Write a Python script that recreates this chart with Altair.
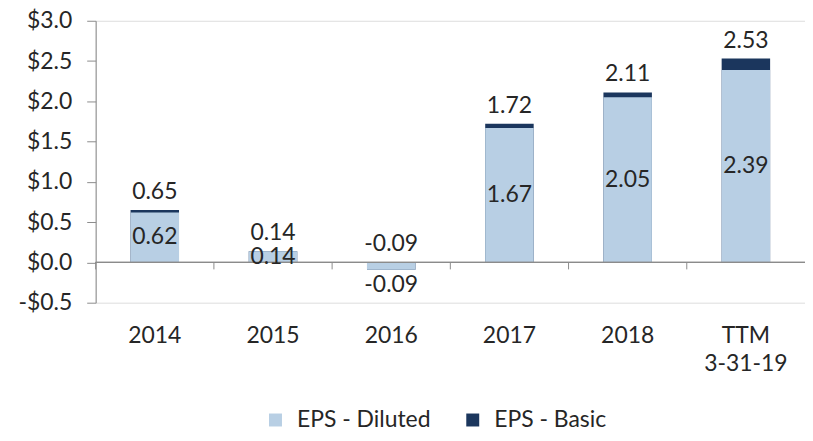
import altair as alt
import pandas as pd

categories = ["2014", "2015", "2016", "2017", "2018", "TTM 3-31-19"]
eps_diluted = [0.62, 0.14, -0.09, 1.67, 2.05, 2.39]
eps_basic = [0.65, 0.14, -0.09, 1.72, 2.11, 2.53]
series_names = ["EPS - Diluted", "EPS - Basic"]
series_colors = ["#b8cfe4", "#1b365d"]
y_ticks = [-0.5, 0.0, 0.5, 1.0, 1.5, 2.0, 2.5, 3.0]

FONT = "Lato"
TXT = "#262626"
AXC = "#8c8c8c"
FS = 23

wide = pd.DataFrame({"category": categories, "diluted": eps_diluted, "basic": eps_basic})
long = pd.DataFrame({
    "category": categories + categories,
    "series": ["EPS - Basic"] * len(categories) + ["EPS - Diluted"] * len(categories),
    "value": eps_basic + eps_diluted,
})

x_scale = alt.Scale(domain=categories, paddingInner=0, paddingOuter=0)
y_scale = alt.Scale(domain=[-0.5, 3.0], nice=False, zero=False)

x_axis = alt.Axis(
    title=None, labelAngle=0, domain=False, ticks=False, tickSize=0, grid=False,
    labelExpr="split(datum.label, ' ')", labelFont=FONT, labelFontSize=FS,
    labelColor=TXT, labelPadding=22, labelLineHeight=28, labelBaseline="top",
)
y_axis = alt.Axis(
    title=None, values=y_ticks, grid=False, domainColor=AXC, tickColor=AXC,
    tickSize=9, labelPadding=15, labelFont=FONT, labelFontSize=FS, labelColor=TXT,
    labelExpr="(datum.value < 0 ? '-' : '') + '$' + format(abs(datum.value), '.1f')",
)

x_enc = alt.X("category:N", sort=categories, scale=x_scale, axis=x_axis)

bars = alt.Chart(long).mark_bar(width={"band": 0.41}).encode(
    x=x_enc,
    y=alt.Y("value:Q", stack=None, scale=y_scale, axis=y_axis),
    color=alt.Color(
        "series:N",
        scale=alt.Scale(domain=series_names, range=series_colors),
        legend=alt.Legend(
            title=None, orient="none", legendX=169, legendY=389, direction="horizontal",
            symbolType="square", symbolSize=169, symbolStrokeWidth=0,
            labelFont=FONT, labelFontSize=FS, labelColor=TXT, labelOffset=10,
            columnPadding=30, padding=0,
        ),
    ),
)

zero_line = alt.Chart(wide).mark_rule(color=AXC, strokeWidth=1).encode(
    y=alt.datum(0, scale=y_scale)
)

cat_ticks = alt.Chart(wide).mark_rule(color=AXC, strokeWidth=1, y2Offset=7).encode(
    x=alt.X("category:N", sort=categories, scale=x_scale, bandPosition=0, axis=x_axis),
    y=alt.datum(0),
    y2=alt.datum(0),
)

basic_text = alt.Chart(wide).transform_calculate(
    ypos="max(datum.basic, 0)",
    lbl="(datum.basic < 0 ? '-' : '') + format(abs(datum.basic), '.2f')",
).mark_text(dy=-18, baseline="middle", font=FONT, fontSize=FS, color=TXT).encode(
    x=x_enc, y=alt.Y("ypos:Q", scale=y_scale), text="lbl:N"
)

dil_pos_text = alt.Chart(wide).transform_filter("datum.diluted >= 0").transform_calculate(
    ypos="datum.diluted / 2",
    lbl="format(datum.diluted, '.2f')",
).mark_text(baseline="middle", font=FONT, fontSize=FS, color=TXT).encode(
    x=x_enc, y=alt.Y("ypos:Q", scale=y_scale), text="lbl:N"
)

dil_neg_text = alt.Chart(wide).transform_filter("datum.diluted < 0").transform_calculate(
    lbl="'-' + format(abs(datum.diluted), '.2f')",
).mark_text(baseline="top", dy=4, font=FONT, fontSize=FS, color=TXT).encode(
    x=x_enc, y=alt.Y("diluted:Q", scale=y_scale), text="lbl:N"
)

chart = alt.layer(
    bars, zero_line, cat_ticks, basic_text, dil_pos_text, dil_neg_text
).properties(
    width=712, height=283,
    autosize=alt.AutoSizeParams(type="none"),
    padding={"left": 88, "top": 12, "right": 0, "bottom": 130},
).configure_view(stroke=None).configure(background="white")

chart.save("out.html", embed_options={"renderer": "svg", "actions": False})
